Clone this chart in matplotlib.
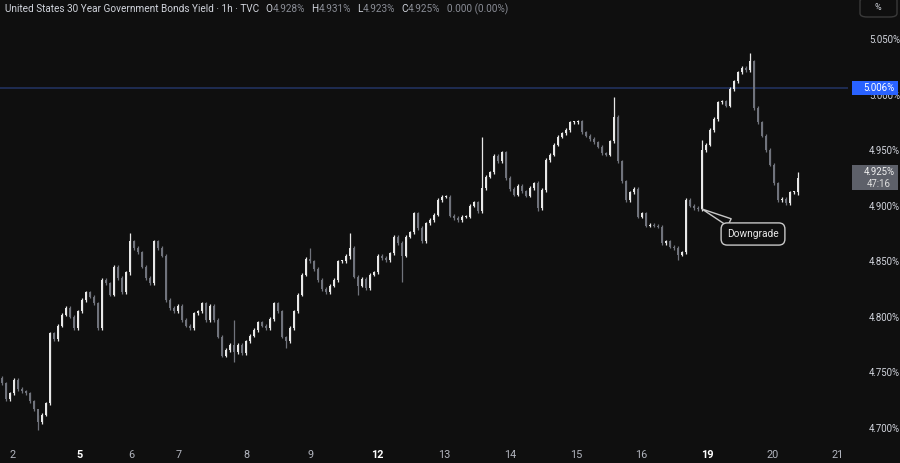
import numpy as np
import matplotlib
matplotlib.use('Agg')
import matplotlib.pyplot as plt
from matplotlib import transforms
from matplotlib.patches import Rectangle, FancyBboxPatch

plt.rcParams['font.family'] = ['Roboto', 'DejaVu Sans']

# hourly closes (bar 0 = first visible bar)
closes = [
    4.740, 4.726, 4.731, 4.743, 4.735, 4.733, 4.731, 4.724, 4.717, 4.705,
    4.712, 4.722, 4.785, 4.780, 4.792, 4.802, 4.808, 4.800, 4.790, 4.805,
    4.815, 4.822, 4.818, 4.812, 4.790, 4.833, 4.830, 4.820, 4.845, 4.835,
    4.822, 4.840, 4.868, 4.862, 4.858, 4.845, 4.835, 4.830, 4.868, 4.862,
    4.855, 4.815, 4.808, 4.805, 4.810, 4.797, 4.792, 4.790, 4.803, 4.805,
    4.812, 4.797, 4.810, 4.797, 4.782, 4.765, 4.770, 4.775, 4.768, 4.775,
    4.767, 4.778, 4.783, 4.788, 4.795, 4.792, 4.790, 4.798, 4.812, 4.805,
    4.782, 4.778, 4.790, 4.805, 4.820, 4.838, 4.852, 4.850, 4.843, 4.833,
    4.825, 4.822, 4.828, 4.833, 4.850, 4.850, 4.855, 4.862, 4.836, 4.828,
    4.834, 4.826, 4.838, 4.840, 4.855, 4.853, 4.851, 4.857, 4.872, 4.866,
    4.855, 4.872, 4.876, 4.893, 4.880, 4.868, 4.884, 4.887, 4.892, 4.905,
    4.908, 4.908, 4.891, 4.889, 4.887, 4.890, 4.890, 4.900, 4.903, 4.895,
    4.916, 4.926, 4.930, 4.945, 4.940, 4.948, 4.925, 4.915, 4.910, 4.918,
    4.913, 4.909, 4.916, 4.920, 4.898, 4.914, 4.941, 4.946, 4.955, 4.962,
    4.965, 4.968, 4.975, 4.975, 4.976, 4.966, 4.963, 4.960, 4.957, 4.953,
    4.947, 4.946, 4.958, 4.980, 4.940, 4.922, 4.905, 4.912, 4.915, 4.890,
    4.893, 4.882, 4.883, 4.882, 4.881, 4.866, 4.868, 4.863, 4.862, 4.856,
    4.858, 4.905, 4.900, 4.898, 4.897, 4.950, 4.955, 4.968, 4.978, 4.993,
    4.994, 4.990, 5.005, 5.012, 5.020, 5.024, 5.022, 5.030, 4.988, 4.975,
    4.963, 4.950, 4.937, 4.920, 4.905, 4.906, 4.902, 4.912, 4.912, 4.925,
]
first_open = 4.745
# bars with long wicks: index -> (high, low)
wicks = {
    9: (4.712, 4.698), 32: (4.875, 4.838), 58: (4.797, 4.759), 71: (4.783, 4.772),
    77: (4.862, 4.848), 87: (4.875, 4.852), 89: (4.838, 4.820), 100: (4.868, 4.831),
    120: (4.962, 4.893), 134: (4.922, 4.895), 153: (4.998, 4.956), 169: (4.864, 4.851),
    175: (4.959, 4.895), 187: (5.037, 5.020), 199: (4.930, 4.910),
}

day_labels = ['2', '5', '6', '7', '8', '9', '12', '13', '14', '15', '16', '19', '20', '21']
day_pos = [2.6, 19.5, 32.25, 44.25, 61, 77.25, 93.75, 110.5, 127, 143.5, 159.75, 176.25, 192.75, 209]
week_start = ['5', '12', '19']

price_ticks = [4.70, 4.75, 4.80, 4.85, 4.90, 4.95, 5.00, 5.05]
level = 5.006
last_close = closes[-1]
countdown = '47:16'
title = 'United States 30 Year Government Bonds Yield · 1h · TVC'
ohlc = [('O', '4.928%'), ('H', '4.931%'), ('L', '4.923%'), ('C', '4.925%')]
change = '0.000 (0.00%)'

bg = '#0f0f0f'
up_c = '#e8e8e8'
dn_c = '#70737c'
txt_c = '#d1d4dc'
dim_c = '#8a8d96'
lab_fs = 6.9

c = np.array(closes)
o = np.concatenate([[first_open], c[:-1]])
x = np.arange(len(c))
hi = np.maximum(o, c) + 0.0015
lo = np.minimum(o, c) - 0.0015
for k, (h, l) in wicks.items():
    hi[k] = h
    lo[k] = l
isup = c >= o
cols = np.where(isup, up_c, dn_c)

fig = plt.figure(figsize=(9, 4.63), dpi=100, facecolor=bg)
ax = fig.add_axes([0, 23 / 463, 848 / 900, 440 / 463])
ax.set_facecolor(bg)

ax.axhline(level, color='#22315e', lw=1.2, zorder=1)

ax.vlines(x, lo, hi, colors=cols, lw=0.9, zorder=2)
body_b = np.minimum(o, c)
body_h = np.maximum(np.abs(c - o), 0.0009)
ax.bar(x, body_h, bottom=body_b, width=0.6, color=cols, linewidth=0, zorder=3)

ax.set_xlim(-0.5, 211.5)
ax.set_ylim(4.6891, 5.0851)
for s in ax.spines.values():
    s.set_visible(False)

ax.yaxis.tick_right()
ax.set_yticks(price_ticks)
ax.set_yticklabels([f'{v:.3f}%' for v in price_ticks])
ax.tick_params(axis='y', length=0, pad=15, labelsize=lab_fs, labelcolor=txt_c)
ax.set_xticks(day_pos)
ax.set_xticklabels(day_labels)
ax.tick_params(axis='x', length=0, pad=7, labelsize=7.8, labelcolor='#b2b5be')
for t in ax.get_xticklabels():
    if t.get_text() in week_start:
        t.set_fontweight('bold')
        t.set_color('#ffffff')

# price level tag + current price tag on the right scale
blend = transforms.blended_transform_factory(fig.transFigure, ax.transData)
ax.add_patch(Rectangle((852 / 900, level - 0.0063), 46 / 900, 0.0126, transform=blend,
                       facecolor='#2962ff', edgecolor='none', clip_on=False, zorder=5))
ax.text(879 / 900, level, f'{level:.3f}%', transform=blend, ha='center', va='center',
        fontsize=lab_fs, color='white', zorder=6, clip_on=False)
ax.add_patch(Rectangle((852 / 900, last_close - 0.0113), 46 / 900, 0.0226, transform=blend,
                       facecolor='#5d6069', edgecolor='none', clip_on=False, zorder=5))
ax.text(879 / 900, last_close + 0.0052, f'{last_close:.3f}%', transform=blend, ha='center',
        va='center', fontsize=lab_fs, color='#f0f0f0', zorder=6, clip_on=False)
ax.text(879 / 900, last_close - 0.0052, countdown, transform=blend, ha='center',
        va='center', fontsize=lab_fs, color='#e0e0e0', zorder=6, clip_on=False)

# "%" toggle at top right
fig.patches.append(FancyBboxPatch((860 / 900, 1 - 17 / 463), 37 / 900, 20 / 463,
                                  boxstyle='round,pad=0,rounding_size=0.008',
                                  transform=fig.transFigure, facecolor='none',
                                  edgecolor='#3a3a3a', lw=1))
fig.text(878 / 900, 1 - 8 / 463, '%', ha='center', va='center', fontsize=6.5, color=txt_c)

# annotation
ax.annotate('Downgrade', xy=(175, 4.897), xytext=(187.75, 4.8745),
            ha='center', va='center', fontsize=7.3, color='#e8e8e8',
            bbox=dict(boxstyle='round,pad=0.6,rounding_size=0.6', fc=bg, ec='#c8c8c8', lw=1),
            arrowprops=dict(arrowstyle='wedge,tail_width=0.8', fc=bg, ec='#c8c8c8', lw=1,
                            shrinkA=0, shrinkB=0),
            zorder=7)

# header, laid out piece by piece
renderer = fig.canvas.get_renderer()
hy = 1 - 9 / 463


def put(px, s, color, gap):
    t = fig.text(px / 900, hy, s, ha='left', va='center', fontsize=7.2, color=color)
    bb = t.get_window_extent(renderer)
    return bb.x1 + gap


px = put(5, title, txt_c, 6)
for lab, val in ohlc:
    px = put(px, lab, txt_c, 0.5)
    px = put(px, val, dim_c, 6)
put(px, change, dim_c, 0)

fig.savefig('out.png', dpi=100, facecolor=bg)
